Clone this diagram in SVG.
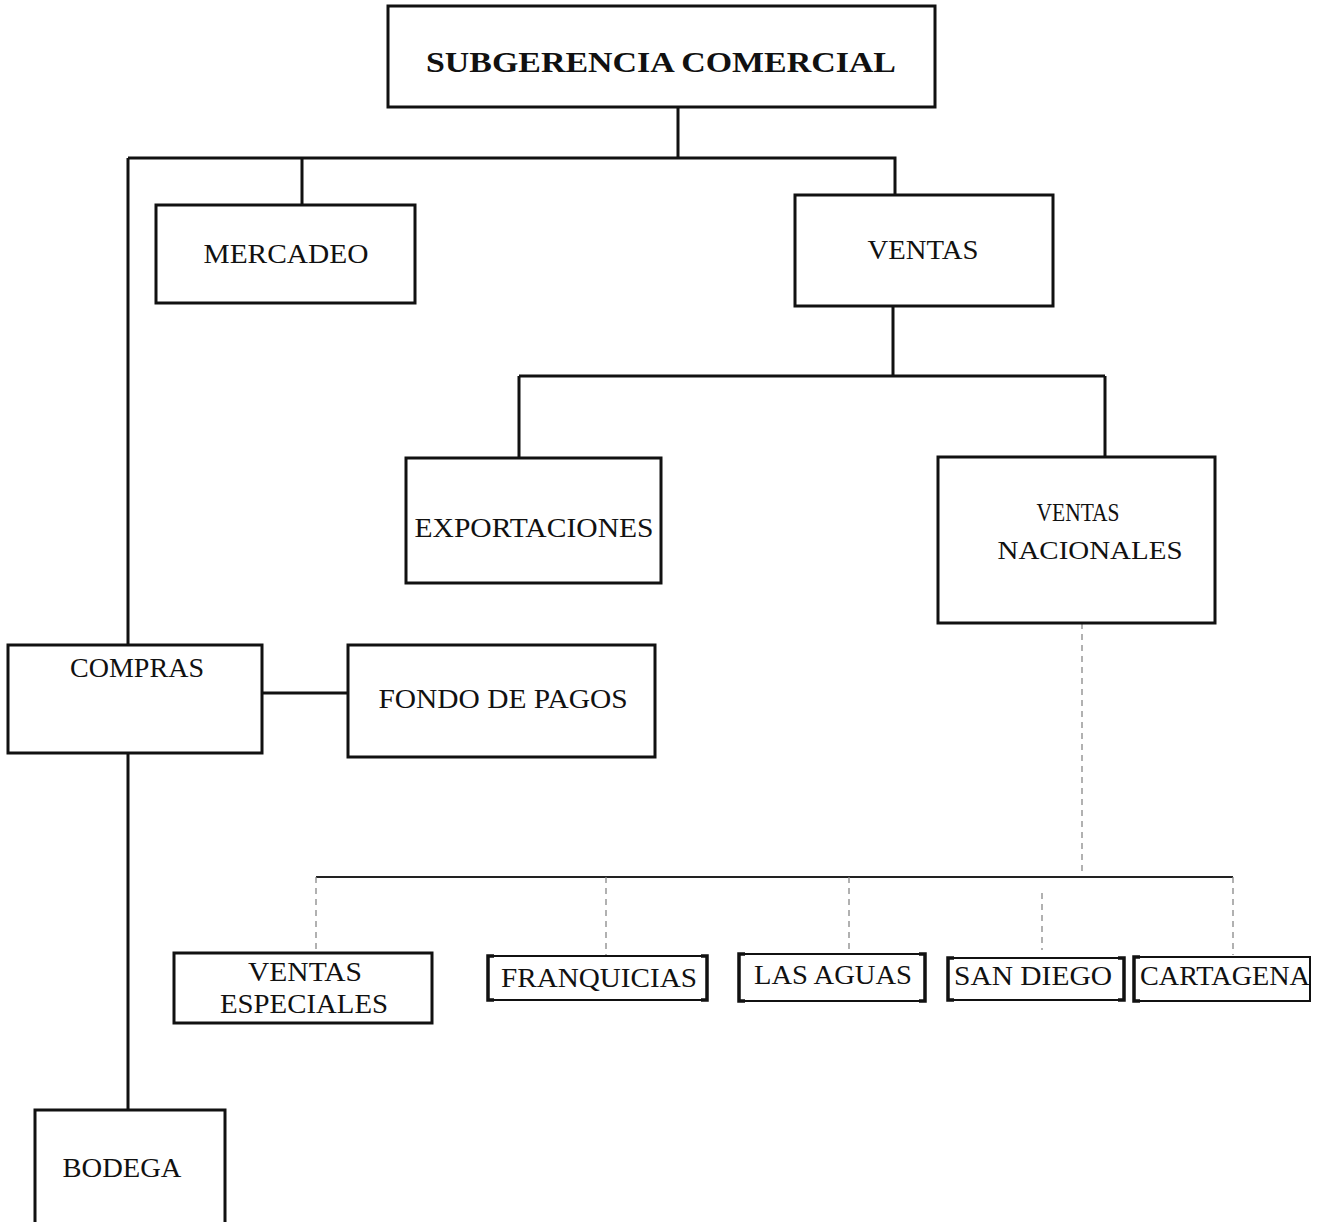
<svg xmlns="http://www.w3.org/2000/svg" width="1323" height="1222" viewBox="0 0 1323 1222">
<style>
.box{fill:#fff;stroke:#111;stroke-width:3}
.thin{fill:#fff;stroke:#111;stroke-width:2}
.br{fill:none;stroke:#111;stroke-width:3.5}
.ln{fill:none;stroke:#111;stroke-width:3}
.ln2{fill:none;stroke:#222;stroke-width:1.8}
.dash{fill:none;stroke:#888;stroke-width:1.3;stroke-dasharray:6 5}
text{font-family:"Liberation Serif","Times New Roman",serif;font-size:28px;fill:#111;text-anchor:middle}
.b{font-weight:bold;font-size:29px}
.s{font-size:26px}
</style>
<rect width="1323" height="1222" fill="#fff"/>
<g id="connectors">
<path class="ln" d="M678 107V158M128 158H895V195M302 158V205M128 158V645"/>
<path class="ln" d="M893 306V376M519 376H1105M519 376V458M1105 376V457"/>
<path class="ln" d="M262 693H348M128 753V1110"/>
<path class="dash" d="M1082 623V877"/>
<path class="ln2" d="M316 877H1233"/>
<path class="dash" d="M316 877V953M606 877V955M849 877V952M1042 893V950M1233 877V955"/>
</g>
<g id="subgerencia"><rect class="box" x="388" y="6" width="547" height="101"/><text class="b" x="661" y="72" textLength="470" lengthAdjust="spacingAndGlyphs">SUBGERENCIA COMERCIAL</text></g>
<g id="mercadeo"><rect class="box" x="156" y="205" width="259" height="98"/><text x="286" y="263" textLength="165" lengthAdjust="spacingAndGlyphs">MERCADEO</text></g>
<g id="ventas"><rect class="box" x="795" y="195" width="258" height="111"/><text x="923" y="259" textLength="111" lengthAdjust="spacingAndGlyphs">VENTAS</text></g>
<g id="exportaciones"><rect class="box" x="406" y="458" width="255" height="125"/><text x="534" y="537" textLength="239" lengthAdjust="spacingAndGlyphs">EXPORTACIONES</text></g>
<g id="ventas-nacionales"><rect class="box" x="938" y="457" width="277" height="166"/><text class="s" x="1078" y="521" textLength="83" lengthAdjust="spacingAndGlyphs">VENTAS</text><text class="s" x="1090" y="559" textLength="185" lengthAdjust="spacingAndGlyphs">NACIONALES</text></g>
<g id="compras"><rect class="box" x="8" y="645" width="254" height="108"/><text x="137" y="677" textLength="134" lengthAdjust="spacingAndGlyphs">COMPRAS</text></g>
<g id="fondo-de-pagos"><rect class="box" x="348" y="645" width="307" height="112"/><text x="503" y="708" textLength="249" lengthAdjust="spacingAndGlyphs">FONDO DE PAGOS</text></g>
<g id="ventas-especiales"><rect class="box" x="174" y="953" width="258" height="70"/><text x="305" y="981" textLength="114" lengthAdjust="spacingAndGlyphs">VENTAS</text><text x="304" y="1013" textLength="168" lengthAdjust="spacingAndGlyphs">ESPECIALES</text></g>
<g id="franquicias"><rect class="thin" x="488" y="956" width="219" height="44"/><path class="br" d="M494 956H488V1000H494M701 956H707V1000H701"/><text x="599" y="987" textLength="196" lengthAdjust="spacingAndGlyphs">FRANQUICIAS</text></g>
<g id="las-aguas"><rect class="thin" x="739" y="954" width="186" height="47"/><path class="br" d="M745 954H739V1001H745M919 954H925V1001H919"/><text x="833" y="984" textLength="158" lengthAdjust="spacingAndGlyphs">LAS AGUAS</text></g>
<g id="san-diego"><rect class="thin" x="948" y="958" width="176" height="42"/><path class="br" d="M954 958H948V1000H954M1118 958H1124V1000H1118"/><text x="1033" y="985" textLength="158" lengthAdjust="spacingAndGlyphs">SAN DIEGO</text></g>
<g id="cartagena"><rect class="thin" x="1134" y="957" width="176" height="44"/><path class="br" d="M1140 957H1134V1001H1140"/><text x="1225" y="985" textLength="170" lengthAdjust="spacingAndGlyphs">CARTAGENA</text></g>
<g id="bodega"><rect class="box" x="35" y="1110" width="190" height="118"/><text x="122" y="1177" textLength="119" lengthAdjust="spacingAndGlyphs">BODEGA</text></g>
</svg>
